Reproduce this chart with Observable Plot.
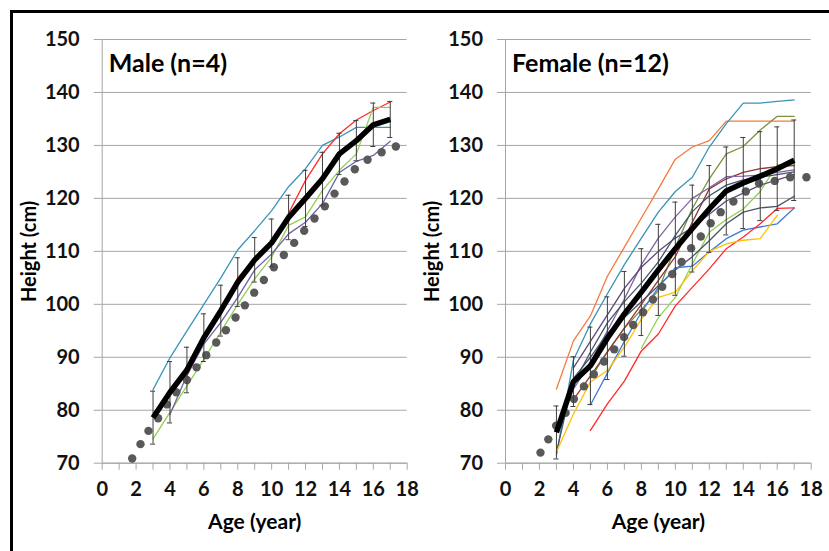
<!DOCTYPE html>
<html>
<head>
<meta charset="utf-8">
<script src="https://cdn.jsdelivr.net/npm/d3@7"></script>
<script src="https://cdn.jsdelivr.net/npm/@observablehq/plot@0.6"></script>
<style>
  html, body { margin: 0; padding: 0; background: #fff; }
  #wrap { position: relative; width: 829px; height: 551px; overflow: hidden; background: #fff; font-family: Lato, "Open Sans", sans-serif; }
  #frame { position: absolute; left: 10px; top: 10px; width: 830px; height: 560px; border-left: 3px solid #000; border-top: 3px solid #000; }
  .panel { position: absolute; top: 0; }
  .panel svg { overflow: visible; }
</style>
</head>
<body>
<div id="wrap"><div id="frame"></div><div id="male" class="panel" style="left:0px"></div><div id="female" class="panel" style="left:414px"></div></div>
<script>
// ---------- axis ticks ----------
const xTicks = d3.range(0, 19);
const xLabels = d3.range(0, 19, 2);
const yTicks = d3.range(70, 151, 10);
const ages = d3.range(3, 18); // 3..17

// ---------- Male ----------
const maleTitle = "Male (n=4)";
const maleMean = [78.6, 83.4, 87.6, 93.7, 98.8, 104.2, 108.4, 111.6, 116.4, 120.0, 123.7, 128.4, 130.9, 133.9, 134.9];
const maleErr  = [5.0, 5.8, 4.3, 4.5, 4.8, 4.6, 4.2, 4.5, 4.2, 5.3, 5.0, 3.9, 3.8, 4.1, 3.4];
const maleTeal   = [83.9, 89.9, 95.0, 100.0, 105.0, 110.3, 113.9, 117.7, 122.2, 125.6, 130.0, 131.6, 133.4, 133.4, 133.4];
const maleRed    = [null, null, 86.5, 93.0, 99.0, 105.0, 108.5, 111.7, 117.2, 123.4, 128.4, 132.2, 134.8, 136.6, 138.2];
const maleGreen  = [74.6, 79.6, 84.6, 89.6, 94.8, 100.0, 104.8, 108.9, 114.9, 116.5, 121.5, 125.3, 128.4, 137.2, 137.2];
const malePurple = [null, 79.2, 86.6, 92.5, 96.6, 101.3, 106.5, 109.5, 113.3, 115.5, 119.0, 124.9, 127.0, 128.1, 130.8];
const maleDotAges = [1.77, 2.26, 2.73, 3.3, 3.82, 4.37, 5.0, 5.57, 6.14, 6.73, 7.3, 7.87, 8.42, 8.97, 9.54, 10.13, 10.72, 11.33, 11.92, 12.53, 13.14, 13.71, 14.3, 14.91, 15.66, 16.49, 17.33];
const maleDotHeights = [70.9, 73.6, 76.1, 78.5, 81.1, 83.4, 85.7, 88.1, 90.4, 92.8, 95.1, 97.5, 99.8, 102.2, 104.6, 107.0, 109.3, 111.6, 113.9, 116.2, 118.5, 120.9, 123.2, 125.5, 127.3, 128.7, 129.8];
const maleSeries = [
  {values: maleTeal, color: "#3b94b8"},
  {values: maleRed, color: "#ff2a2a"},
  {values: maleGreen, color: "#92d050"},
  {values: malePurple, color: "#7060a8"}
];

// ---------- Female ----------
const femaleTitle = "Female (n=12)";
const femaleMean = [75.8, 85.4, 88.4, 93.6, 98.2, 102.3, 106.5, 110.5, 114.3, 118.0, 121.4, 122.9, 124.2, 125.6, 127.2];
const femaleErr  = [5.0, 4.7, 7.3, 7.8, 8.0, 8.2, 8.6, 8.8, 8.2, 8.2, 8.3, 8.6, 8.4, 7.9, 7.6];
const fOrange     = [84.0, 93.1, 97.8, 105.3, 110.8, 116.3, 121.8, 127.4, 129.7, 130.9, 134.6, 134.6, 134.6, 134.6, 134.6];
const fTeal       = [71.5, 89.5, 96.3, 102.0, 107.5, 112.5, 117.4, 121.3, 124.0, 129.7, 134.1, 138.0, 138.0, 138.3, 138.6];
const fOlive      = [null, null, 86.0, 91.0, 95.5, 99.0, 102.6, 110.8, 118.1, 123.7, 128.4, 129.8, 132.9, 135.5, 135.5];
const fLightGreen = [null, null, null, null, null, 91.7, 97.5, 101.3, 107.6, 113.6, 116.0, 118.0, 121.3, 126.3, 126.5];
const fBrown      = [null, 82.0, 86.5, 91.0, 95.5, 100.0, 104.5, 109.0, 115.5, 121.8, 123.7, 124.9, 125.6, 126.0, 126.2];
const fPurple     = [null, 84.0, 89.0, 95.0, 101.0, 107.5, 112.5, 116.5, 120.0, 122.0, 124.1, 124.2, 124.4, 124.9, 125.4];
const fDarkPurple = [null, 88.0, 93.0, 98.0, 103.0, 107.0, 110.0, 112.5, 114.5, 117.0, 119.5, 121.0, 122.5, 123.5, 124.5];
const fSlate      = [72.0, 86.0, 90.0, 94.5, 97.5, 100.5, 103.5, 106.5, 109.0, 112.0, 115.2, 117.4, 118.2, 118.5, 120.4];
const fBlue       = [null, null, 81.0, 87.0, 93.0, 98.5, 103.2, 106.9, 107.2, 109.9, 112.4, 114.0, 114.6, 115.2, 118.2];
const fRed        = [null, null, 76.2, 81.2, 85.5, 91.2, 94.4, 99.7, 103.2, 106.7, 110.5, 112.7, 115.2, 118.1, 118.2];
const fYellow     = [72.1, 79.3, 85.3, 87.5, 91.9, 97.2, 101.3, 102.3, 106.3, 110.0, 111.4, 112.1, 112.4, 116.8, null];
const fNavy       = [null, 85.0, 91.0, 96.5, 100.5, 104.0, 108.0, 113.0, 117.5, 120.5, 122.5, 123.5, 124.0, 124.5, 125.0];
const femaleDotAges = [2.06, 2.52, 2.98, 3.54, 4.03, 4.62, 5.2, 5.8, 6.4, 6.98, 7.52, 8.1, 8.68, 9.23, 9.82, 10.37, 10.93, 11.5, 12.08, 12.67, 13.42, 14.15, 14.93, 15.85, 16.76, 17.72];
const femaleDotHeights = [72.0, 74.5, 77.1, 79.5, 82.1, 84.5, 86.8, 89.2, 91.5, 93.8, 96.1, 98.5, 100.9, 103.3, 105.7, 108.0, 110.6, 112.8, 115.3, 117.4, 119.4, 121.3, 122.8, 123.3, 124.0, 124.0];
const femaleSeries = [
  {values: fOrange, color: "#f47b3d"},
  {values: fTeal, color: "#3a93b5"},
  {values: fOlive, color: "#77933c"},
  {values: fLightGreen, color: "#92d050"},
  {values: fBrown, color: "#953735"},
  {values: fPurple, color: "#8064a2"},
  {values: fDarkPurple, color: "#5f497a"},
  {values: fSlate, color: "#4a5368"},
  {values: fBlue, color: "#3c7dd9"},
  {values: fRed, color: "#ff2a2a"},
  {values: fYellow, color: "#ffc000"},
  {values: fNavy, color: "#44546a"}
];

const gridColor = "#a6a6a6";
const font = "Lato, 'Open Sans', sans-serif";

function toRows(values) {
  return ages.map((a, i) => ({age: a, h: values[i]})).filter(d => d.h != null);
}

function panel({title, series, mean, err, dotAges, dotHeights, width, marginLeft, marginRight}) {
  const meanRows = ages.map((a, i) => ({age: a, h: mean[i], lo: mean[i] - err[i], hi: mean[i] + err[i]}));
  const dots = dotAges.map((a, i) => ({age: a, h: dotHeights[i]}));
  return Plot.plot({
    width, height: 551,
    marginLeft, marginRight, marginTop: 39, marginBottom: 88.3,
    x: {domain: [0, 18]},
    y: {domain: [70, 150]},
    style: {background: "transparent", fontFamily: font, overflow: "visible"},
    marks: [
      Plot.gridY(yTicks, {stroke: gridColor, strokeOpacity: 1, strokeWidth: 1}),
      Plot.axisY(yTicks, {tickSize: 8, tickPadding: 14.5, stroke: gridColor, strokeOpacity: 1, fontSize: 20, fontWeight: "bold", fill: "#111", label: null, fontFamily: font}),
      Plot.ruleX([0], {stroke: gridColor}),
      Plot.ruleY([70], {stroke: gridColor}),
      Plot.axisX(xTicks, {tickSize: 7, stroke: gridColor, strokeOpacity: 1, fill: "none", label: null}),
      Plot.axisX(xLabels, {tickSize: 0, tickPadding: 18.5, fontSize: 20, fontWeight: "bold", fill: "#111", label: null, fontFamily: font}),
      ...series.map(s => Plot.line(toRows(s.values), {x: "age", y: "h", stroke: s.color, strokeWidth: 1.3})),
      Plot.dot(dots, {x: "age", y: "h", r: 4.2, fill: "#595959", stroke: "none"}),
      Plot.ruleX(meanRows, {x: "age", y1: "lo", y2: "hi", stroke: "#3f3f3f", strokeWidth: 1}),
      Plot.ruleY(meanRows, {y: "lo", x1: d => d.age - 0.15, x2: d => d.age + 0.15, stroke: "#3f3f3f", strokeWidth: 1}),
      Plot.ruleY(meanRows, {y: "hi", x1: d => d.age - 0.15, x2: d => d.age + 0.15, stroke: "#3f3f3f", strokeWidth: 1}),
      Plot.line(meanRows, {x: "age", y: "h", stroke: "#000", strokeWidth: 5.5, strokeLinejoin: "round", strokeLinecap: "butt"}),
      Plot.text([title], {text: d => d, frameAnchor: "top-left", dx: 6.5, dy: 15, textAnchor: "start", lineAnchor: "top", fontSize: 25, fontWeight: "bold", fill: "#000", fontFamily: font}),
      Plot.text(["Age (year)"], {text: d => d, frameAnchor: "bottom", dy: 51, textAnchor: "middle", lineAnchor: "top", fontSize: 21, fontWeight: "bold", fill: "#000", fontFamily: font}),
      Plot.text(["Height (cm)"], {text: d => d, frameAnchor: "left", dx: -73, rotate: -90, textAnchor: "middle", lineAnchor: "middle", fontSize: 20, fontWeight: "bold", fill: "#000", fontFamily: font})
    ]
  });
}

document.getElementById("male").append(panel({
  title: maleTitle, series: maleSeries, mean: maleMean, err: maleErr,
  dotAges: maleDotAges, dotHeights: maleDotHeights,
  width: 420, marginLeft: 101.7, marginRight: 13.3
}));
document.getElementById("female").append(panel({
  title: femaleTitle, series: femaleSeries, mean: femaleMean, err: femaleErr,
  dotAges: femaleDotAges, dotHeights: femaleDotHeights,
  width: 415, marginLeft: 91, marginRight: 18.3
}));
</script>
</body>
</html>
